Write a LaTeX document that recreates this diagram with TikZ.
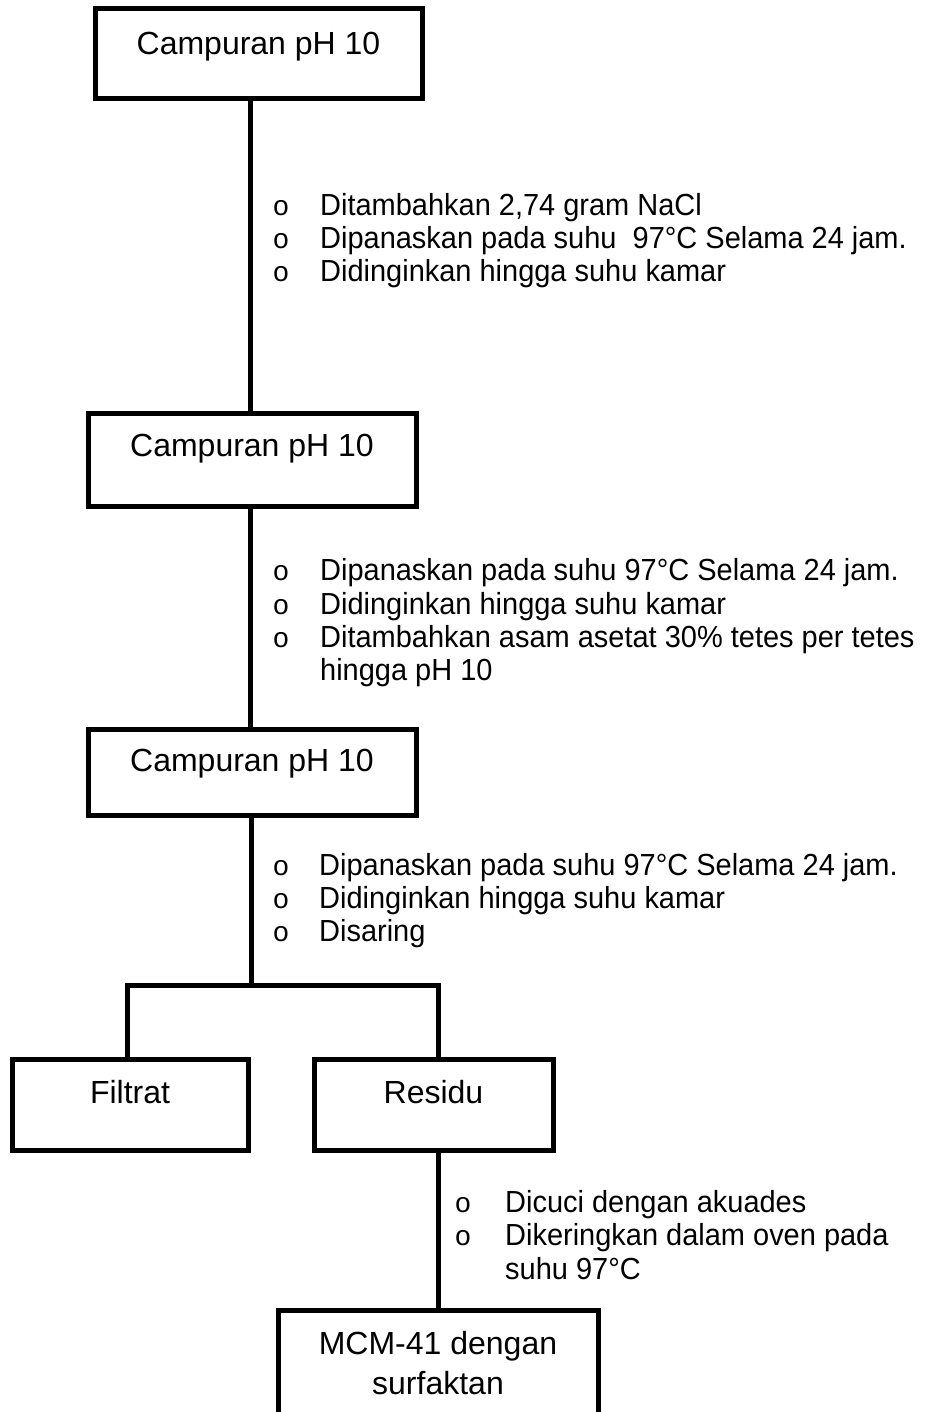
\documentclass[tikz,border=0pt]{standalone}
\usepackage{fontspec}
\setmainfont{Liberation Sans}
\newfontfamily\monof{Liberation Mono}
\newfontfamily\narrowf[FakeStretch=0.95]{Liberation Sans}
\begin{document}
\begin{tikzpicture}[x=1pt,y=-1pt,
  box/.style={draw, line width=5pt, inner sep=0pt, outer sep=0pt},
  boxtxt/.style={inner sep=0pt, anchor=base, font=\fontsize{32}{38}\selectfont},
  bul/.style={inner sep=0pt, anchor=base, font=\monof\fontsize{28}{32}\selectfont},
  btxt/.style={inner sep=0pt, anchor=base west, font=\narrowf\fontsize{30.5}{35}\selectfont},
  conn/.style={line width=5pt}]
\useasboundingbox (0,0) rectangle (928,1412);
\clip (0,0) rectangle (928,1412);

% boxes
\node[box, minimum width=327pt, minimum height=90pt] (b1) at (258.5,54) {};
\node[boxtxt] (b1t) at (258.5,54.5) {Campuran pH 10};
\node[box, minimum width=328pt, minimum height=93pt] (b2) at (252,459.5) {};
\node[boxtxt] (b2t) at (252,456.5) {Campuran pH 10};
\node[box, minimum width=328pt, minimum height=86pt] (b3) at (252,772) {};
\node[boxtxt] (b3t) at (252,771.5) {Campuran pH 10};
\node[box, minimum width=236pt, minimum height=91pt] (f) at (130,1104.5) {};
\node[boxtxt] (ft) at (130,1103.5) {Filtrat};
\node[box, minimum width=239pt, minimum height=91pt] (r) at (433.5,1104.5) {};
\node[boxtxt] (rt) at (433.5,1103.5) {Residu};
\node[box, minimum width=320pt, minimum height=130pt] (m) at (438,1375) {};
\node[boxtxt] (mt1) at (438,1354.5) {MCM-41 dengan};
\node[boxtxt] (mt2) at (438,1394) {surfaktan};

% connectors
\coordinate (trunk) at (250,0);
\draw[conn] (b1.south -| trunk) -- (b2.north -| trunk);
\draw[conn] (b2.south -| trunk) -- (b3.north -| trunk);
\coordinate (split) at (251,985);
\coordinate (bl) at (127,985);
\coordinate (br) at (438,985);
\draw[conn] (b3.south -| split) -- (split);
\draw[conn] (f.north -| bl) -- (bl) -- (br) -- (r.north -| br);
\draw[conn] (r.south -| br) -- (m.north -| br);

% group 1
\node[bul] (g1a) at (281,215.5) {o};
\node[btxt] (g1at) at (320,215.5) {Ditambahkan 2,74 gram NaCl};
\node[bul] (g1b) at (281,248.5) {o};
\node[btxt] (g1bt) at (320,248.5) {Dipanaskan pada suhu\ \ 97°C Selama 24 jam.};
\node[bul] (g1c) at (281,281.5) {o};
\node[btxt] (g1ct) at (320,281.5) {Didinginkan hingga suhu kamar};

% group 2
\node[bul] (g2a) at (281,580.5) {o};
\node[btxt] (g2at) at (320,580.5) {Dipanaskan pada suhu 97°C Selama 24 jam.};
\node[bul] (g2b) at (281,614) {o};
\node[btxt] (g2bt) at (320,614) {Didinginkan hingga suhu kamar};
\node[bul] (g2c) at (281,647.5) {o};
\node[btxt] (g2ct) at (320,647.5) {Ditambahkan asam asetat 30\% tetes per tetes};
\node[btxt] (g2dt) at (320,680.5) {hingga pH 10};

% group 3
\node[bul] (g3a) at (281,875.5) {o};
\node[btxt] (g3at) at (319,875.5) {Dipanaskan pada suhu 97°C Selama 24 jam.};
\node[bul] (g3b) at (281,908.5) {o};
\node[btxt] (g3bt) at (319,908.5) {Didinginkan hingga suhu kamar};
\node[bul] (g3c) at (281,941.5) {o};
\node[btxt] (g3ct) at (319,941.5) {Disaring};

% group 4
\node[bul] (g4a) at (463,1212.5) {o};
\node[btxt] (g4at) at (505,1212.5) {Dicuci dengan akuades};
\node[bul] (g4b) at (463,1245.5) {o};
\node[btxt] (g4bt) at (505,1245.5) {Dikeringkan dalam oven pada};
\node[btxt] (g4ct) at (505,1279.5) {suhu 97°C};
\end{tikzpicture}
\end{document}
